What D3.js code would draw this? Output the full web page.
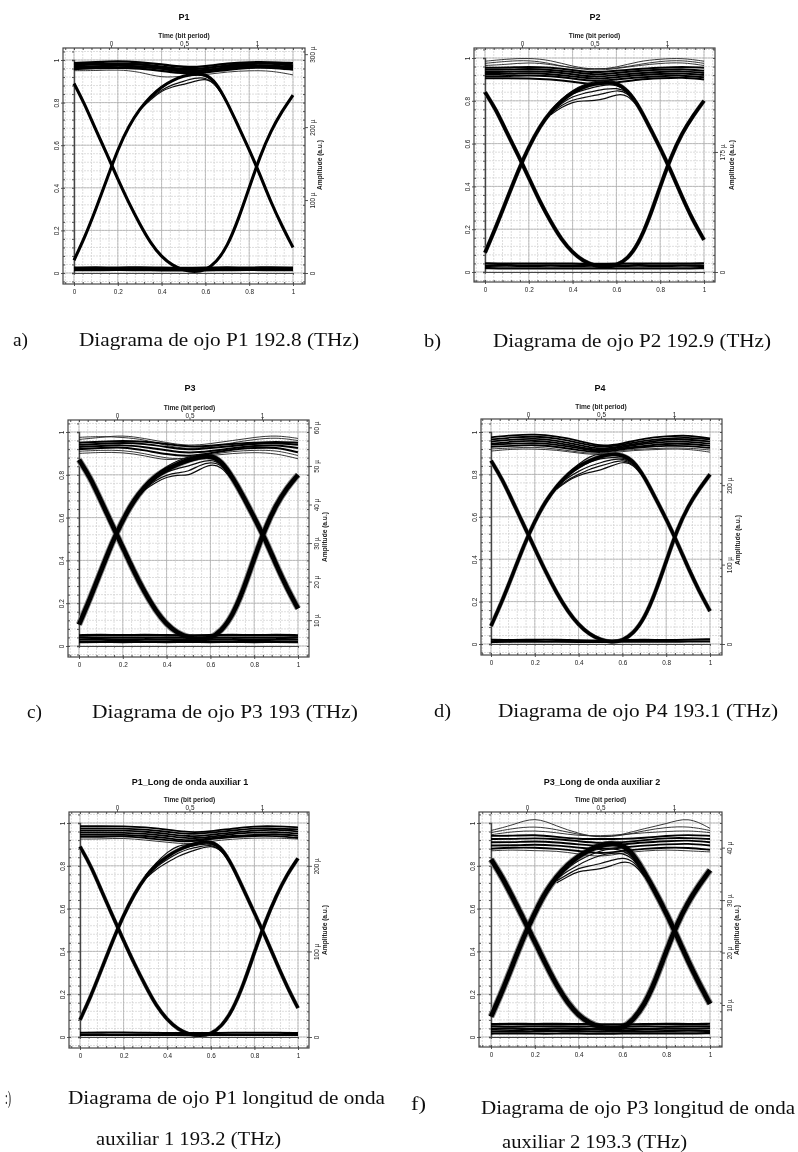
<!DOCTYPE html>
<html><head><meta charset="utf-8">
<script src="https://cdn.jsdelivr.net/npm/d3@7"></script>
<style>html,body{margin:0;padding:0;background:#fff}svg{display:block}</style>
</head><body><svg id="c" width="798" height="1152"></svg>
<script>
// ---- sample positions (bit-period fraction) ----
const X21=[0,.05,.1,.15,.2,.25,.3,.35,.4,.45,.5,.55,.6,.65,.7,.75,.8,.85,.9,.95,1];
const X11=[0,.1,.2,.3,.4,.5,.6,.7,.8,.9,1];
const X9=[.3,.35,.4,.45,.5,.55,.6,.65,.7];
const xTicks=[0,.2,.4,.6,.8,1], yTicks=[0,.2,.4,.6,.8,1], topTicks=[0,.5,1];
const titles=["P1","P2","P3","P4","P1_Long de onda auxiliar 1","P3_Long de onda auxiliar 2"];
const rightTicks=[[0,100,200,300],[0,175],[10,20,30,40,50,60],[0,100,200],[0,100,200],[10,20,30,40]];
const rightDomains=[[0,292],[0,312],[3.3,58.8],[0,267],[0,250],[3.9,44.7]];
// ---- P1 ----
const P1_arch=[.06,.17,.30,.44,.58,.69,.77,.83,.875,.905,.925,.935,.935,.895,.80,.69,.58,.46,.33,.22,.12];
const P1_bowl=[.89,.79,.67,.56,.44,.33,.23,.14,.075,.035,.012,.005,.012,.05,.125,.25,.40,.55,.67,.76,.835];
const P1_top=[[.985,.99,.995,.99,.98,.965,.97,.985,.99,.99,.985],[.975,.98,.985,.98,.97,.955,.96,.975,.985,.985,.975],[.965,.97,.975,.97,.96,.945,.95,.965,.975,.975,.965],[.958,.962,.965,.96,.95,.935,.94,.955,.965,.965,.955],[.978,.985,.975,.985,.96,.95,.945,.97,.98,.99,.97],[.97,.965,.98,.965,.965,.94,.955,.96,.97,.97,.96]];
const P1_stray=[[.95,.95,.955,.945,.915,.925,.93,.945,.95,.95,.93]];
const P1_bot=[[.024,.026,.024,.026,.024,.022,.024,.026,.024,.026,.024],[.014,.014,.016,.014,.014,.012,.014,.014,.016,.014,.014]];
const P1_lobe=[[.77,.825,.87,.905,.925,.93,.93,.89,.80],[.77,.82,.86,.885,.90,.915,.92,.885,.80],[.765,.815,.855,.875,.885,.90,.915,.885,.795]];
// ---- P2 ----
const P2_arch=[.09,.21,.34,.47,.585,.68,.75,.80,.84,.865,.88,.885,.885,.85,.78,.68,.58,.47,.35,.24,.15];
const P2_bowl=[.84,.76,.65,.55,.44,.33,.235,.15,.09,.05,.03,.022,.03,.06,.13,.25,.40,.54,.65,.73,.80];
const P2_top=[[.955,.955,.96,.955,.945,.93,.94,.95,.955,.96,.955],[.945,.945,.95,.945,.935,.92,.93,.94,.945,.95,.94],[.935,.935,.94,.935,.925,.91,.92,.93,.935,.94,.93],[.925,.925,.93,.925,.915,.90,.91,.92,.925,.93,.92],[.915,.915,.92,.915,.905,.89,.90,.91,.915,.92,.91],[.905,.905,.905,.90,.89,.875,.885,.90,.905,.91,.90]];
const P2_stray=[[.985,.995,1.0,.99,.96,.945,.955,.985,.995,1.0,.985],[.975,.985,.99,.975,.95,.95,.95,.97,.985,.99,.975],[.965,.97,.98,.97,.955,.94,.95,.965,.975,.98,.965]];
const P2_bot=[[.04,.038,.04,.038,.04,.036,.04,.038,.04,.038,.04],[.028,.03,.028,.03,.028,.03,.028,.03,.028,.03,.028],[.018,.016,.018,.016,.018,.016,.018,.016,.018,.016,.018]];
const P2_lobe=[[.755,.81,.85,.875,.89,.90,.89,.855,.785],[.75,.80,.835,.85,.865,.875,.875,.85,.78],[.745,.79,.82,.835,.845,.855,.86,.845,.78],[.74,.78,.805,.815,.825,.835,.85,.84,.775],[.735,.77,.795,.80,.80,.81,.83,.83,.77]];
// ---- P3 ----
const P3_arch=[.10,.22,.35,.48,.59,.68,.745,.795,.825,.85,.87,.885,.89,.865,.79,.70,.60,.50,.38,.27,.175];
const P3_bowl=[.87,.79,.68,.57,.46,.35,.25,.165,.10,.06,.04,.03,.035,.07,.14,.26,.41,.55,.66,.74,.80];
const P3_top=[[.95,.955,.96,.955,.945,.93,.935,.945,.95,.955,.95],[.94,.945,.95,.945,.93,.915,.925,.935,.945,.95,.94],[.93,.935,.94,.93,.915,.90,.91,.925,.935,.94,.925],[.92,.925,.93,.915,.895,.885,.90,.92,.925,.93,.905]];
const P3_stray=[[.965,.975,.985,.97,.95,.935,.945,.96,.975,.985,.97],[.91,.915,.915,.90,.875,.875,.895,.91,.915,.915,.89],[.975,.98,.975,.965,.935,.92,.93,.95,.965,.975,.96],[.90,.905,.905,.89,.865,.88,.89,.90,.905,.90,.875]];
const P3_bot=[[.05,.052,.05,.052,.05,.05,.05,.052,.05,.052,.05],[.04,.038,.04,.038,.04,.038,.04,.038,.04,.038,.04],[.03,.03,.028,.03,.03,.028,.03,.03,.028,.03,.03],[.018,.02,.018,.02,.018,.02,.018,.02,.018,.02,.018]];
const P3_lobe=[[.75,.80,.84,.865,.885,.895,.89,.865,.795],[.745,.79,.825,.845,.86,.875,.88,.86,.79],[.74,.785,.815,.83,.84,.86,.87,.855,.785],[.735,.775,.80,.81,.815,.845,.86,.85,.78],[.73,.765,.79,.80,.795,.825,.85,.84,.775]];
// ---- P4 ----
const P4_arch=[.085,.20,.33,.465,.58,.675,.745,.80,.84,.865,.885,.895,.895,.865,.79,.69,.59,.48,.36,.25,.155];
const P4_bowl=[.865,.78,.67,.56,.45,.34,.24,.155,.09,.045,.02,.008,.015,.05,.12,.24,.39,.54,.65,.73,.80];
const P4_top=[[.975,.985,.99,.98,.96,.93,.945,.97,.98,.985,.97],[.965,.975,.98,.97,.95,.925,.94,.96,.97,.975,.965],[.955,.965,.97,.96,.94,.915,.935,.95,.965,.965,.955],[.945,.955,.96,.95,.93,.91,.93,.945,.955,.955,.945],[.94,.945,.95,.94,.925,.905,.925,.935,.945,.945,.935],[.93,.935,.94,.93,.915,.90,.92,.93,.935,.935,.925]];
const P4_stray=[[.92,.925,.93,.92,.905,.895,.915,.92,.925,.925,.915],[.91,.92,.92,.915,.90,.89,.91,.915,.92,.92,.905]];
const P4_bot=[[.02,.018,.02,.02,.018,.016,.018,.02,.018,.02,.022],[.01,.01,.012,.01,.01,.01,.01,.012,.01,.012,.012]];
const P4_lobe=[[.75,.805,.85,.885,.90,.89,.885,.86,.79],[.745,.795,.83,.86,.875,.88,.88,.86,.79],[.74,.785,.815,.84,.855,.87,.875,.855,.785],[.735,.775,.80,.825,.84,.855,.87,.85,.785],[.73,.77,.795,.81,.82,.84,.86,.85,.78]];
// ---- P1 auxiliar 1 ----
const P5_arch=[.08,.19,.32,.45,.57,.67,.75,.805,.845,.875,.895,.91,.915,.885,.80,.69,.58,.47,.35,.235,.135];
const P5_bowl=[.89,.80,.68,.565,.45,.34,.24,.145,.08,.035,.012,.005,.012,.05,.125,.245,.395,.54,.66,.76,.835];
const P5_top=[[.985,.985,.985,.98,.97,.955,.96,.975,.985,.985,.98],[.975,.975,.975,.97,.96,.945,.955,.965,.975,.975,.97],[.965,.965,.965,.96,.95,.935,.945,.955,.965,.97,.96],[.955,.955,.955,.95,.94,.925,.935,.95,.955,.96,.95],[.945,.945,.945,.94,.93,.915,.93,.94,.945,.95,.94],[.935,.935,.94,.93,.92,.91,.925,.935,.94,.94,.93]];
const P5_stray=[[.925,.925,.93,.92,.91,.90,.915,.925,.93,.93,.925]];
const P5_bot=[[.02,.02,.022,.02,.018,.018,.018,.02,.02,.02,.018],[.01,.01,.01,.01,.01,.008,.01,.01,.01,.01,.01]];
const P5_lobe=[[.755,.815,.865,.895,.90,.905,.91,.88,.80],[.75,.805,.845,.875,.89,.90,.905,.88,.80],[.745,.795,.83,.86,.88,.89,.90,.875,.795],[.74,.785,.815,.845,.865,.88,.895,.875,.795]];
// ---- P3 auxiliar 2 ----
const P6_arch=[.095,.21,.34,.47,.58,.68,.75,.805,.845,.875,.895,.905,.90,.855,.77,.68,.58,.47,.355,.25,.155];
const P6_bowl=[.83,.75,.65,.55,.445,.34,.24,.16,.10,.065,.045,.035,.04,.08,.15,.26,.40,.53,.63,.71,.78];
const P6_top=[[.94,.94,.945,.935,.925,.925,.925,.93,.94,.945,.94],[.925,.925,.93,.925,.915,.905,.91,.92,.93,.93,.925],[.91,.91,.915,.91,.90,.89,.90,.91,.915,.92,.91],[.895,.895,.90,.895,.885,.875,.885,.895,.90,.905,.895],[.88,.885,.885,.88,.87,.855,.87,.88,.885,.885,.875]];
const P6_stray=[[.87,.875,.87,.87,.855,.84,.86,.87,.875,.87,.865],[.965,.99,1.03,.985,.95,.93,.945,.975,.995,1.03,.975],[.955,.975,.985,.97,.945,.935,.94,.965,.98,.985,.965],[.945,.96,.965,.955,.94,.94,.945,.955,.96,.965,.955]];
const P6_bot=[[.06,.062,.06,.062,.06,.06,.058,.06,.062,.06,.062],[.05,.048,.05,.05,.048,.05,.048,.05,.048,.05,.05],[.038,.04,.036,.04,.038,.036,.04,.036,.04,.038,.04],[.026,.028,.026,.03,.028,.026,.028,.026,.028,.03,.028],[.016,.018,.016,.016,.018,.014,.018,.016,.018,.016,.018]];
const P6_lobe=[[.755,.815,.85,.885,.91,.915,.90,.855,.77],[.75,.80,.84,.87,.89,.90,.89,.85,.77],[.745,.79,.825,.85,.87,.88,.875,.84,.765],[.74,.775,.805,.83,.85,.86,.86,.835,.76],[.73,.76,.79,.80,.81,.825,.84,.825,.755],[.72,.75,.775,.78,.785,.80,.82,.815,.75]];
const series=[[P1_arch,P1_bowl,P1_top,P1_stray,P1_bot,P1_lobe],[P2_arch,P2_bowl,P2_top,P2_stray,P2_bot,P2_lobe],[P3_arch,P3_bowl,P3_top,P3_stray,P3_bot,P3_lobe],[P4_arch,P4_bowl,P4_top,P4_stray,P4_bot,P4_lobe],[P5_arch,P5_bowl,P5_top,P5_stray,P5_bot,P5_lobe],[P6_arch,P6_bowl,P6_top,P6_stray,P6_bot,P6_lobe]];

// ---- layout (pixels) ----
const layout=[
 {l:63,r:305,t:48,b:284,x0:74,x1:293,y1:60,y0:273,t0:111,t1:257,tx:184,ty:17,ax:320,ay:165,w:3.1,h:0,band:2.3},
 {l:474,r:715,t:48,b:282,x0:485,x1:704,y1:58,y0:272,t0:522,t1:667,tx:595,ty:17,ax:732,ay:165,w:3.6,h:4.2,band:2},
 {l:68,r:309,t:420,b:657,x0:79,x1:298,y1:432,y0:646,t0:117,t1:262,tx:190,ty:388,ax:325,ay:537,w:4.6,h:6.4,band:2},
 {l:481,r:722,t:419,b:655,x0:491,x1:710,y1:432,y0:644,t0:528,t1:674,tx:600,ty:388,ax:738,ay:540,w:3.5,h:4.4,band:1.8},
 {l:69,r:309,t:812,b:1048,x0:80,x1:298,y1:823,y0:1037,t0:117,t1:262,tx:190,ty:782,ax:325,ay:930,w:3.3,h:4,band:1.8},
 {l:479,r:722,t:812,b:1047,x0:491,x1:710,y1:823,y0:1037,t0:527,t1:674,tx:602,ty:782,ax:737,ay:930,w:4.8,h:6.8,band:1.9}
];
const captionLines=[
 {s:"a)",x:13,y:345.5,w:15},{s:"Diagrama de ojo P1 192.8 (THz)",x:79,y:345.5,w:280},
 {s:"b)",x:424,y:346.5,w:17},{s:"Diagrama de ojo P2 192.9 (THz)",x:493,y:346.5,w:278},
 {s:"c)",x:27,y:717.5,w:15},{s:"Diagrama de ojo P3 193 (THz)",x:92,y:717.5,w:266},
 {s:"d)",x:434,y:716.5,w:17},{s:"Diagrama de ojo P4 193.1 (THz)",x:498,y:716.5,w:280},
 {s:":)",x:5,y:1104,w:6},{s:"Diagrama de ojo P1 longitud de onda",x:68,y:1104,w:317},
 {s:"auxiliar 1 193.2 (THz)",x:96,y:1145,w:185},
 {s:"f)",x:411,y:1110,w:15},{s:"Diagrama de ojo P3 longitud de onda",x:481,y:1114,w:314},
 {s:"auxiliar 2 193.3 (THz)",x:502,y:1148,w:185}
];

const svg=d3.select("#c");
const defs=svg.append("defs");
defs.append("filter").attr("id","soft").attr("x","-5%").attr("y","-5%").attr("width","110%").attr("height","110%")
  .append("feGaussianBlur").attr("stdDeviation",0.55);
defs.append("filter").attr("id","softText").attr("x","-5%").attr("y","-20%").attr("width","110%").attr("height","140%")
  .append("feGaussianBlur").attr("stdDeviation",0.35);

const AXC="#444", SANS="'Liberation Sans',Arial,sans-serif";
function styleAxis(g,size){
  g.selectAll("path").attr("stroke",AXC).attr("stroke-width",1);
  g.selectAll("line").attr("stroke",AXC).attr("stroke-width",.9);
  g.selectAll("text").attr("font-family",SANS).attr("font-size",size).attr("fill","#222");
}
layout.forEach((L,i)=>{
  const [arch,bowl,top,stray,bot,lobe]=series[i];
  const sx=d3.scaleLinear().domain([0,1]).range([L.x0,L.x1]);
  const sy=d3.scaleLinear().domain([0,1]).range([L.y0,L.y1]);
  const st=d3.scaleLinear().domain([0,1]).range([L.t0,L.t1]);
  const sr=d3.scaleLinear().domain(rightDomains[i]).range([L.y0,L.y1]);
  const g=svg.append("g").attr("filter","url(#soft)");
  const minorX=d3.range(-5,31).map(k=>k*.04).filter(v=>sx(v)>=L.l&&sx(v)<=L.r);
  const minorY=d3.range(-5,31).map(k=>k*.04).filter(v=>sy(v)<=L.b&&sy(v)>=L.t);
  // grid
  g.append("g").selectAll("line").data(minorX).join("line").attr("x1",d=>sx(d)).attr("x2",d=>sx(d)).attr("y1",L.t).attr("y2",L.b).attr("stroke","#d0d0d0").attr("stroke-width",.7).attr("stroke-dasharray","2 1");
  g.append("g").selectAll("line").data(minorY).join("line").attr("y1",d=>sy(d)).attr("y2",d=>sy(d)).attr("x1",L.l).attr("x2",L.r).attr("stroke","#d0d0d0").attr("stroke-width",.7).attr("stroke-dasharray","2 1");
  g.append("g").selectAll("line").data(xTicks).join("line").attr("x1",d=>sx(d)).attr("x2",d=>sx(d)).attr("y1",L.t).attr("y2",L.b).attr("stroke","#aaa").attr("stroke-width",.7);
  g.append("g").selectAll("line").data(yTicks).join("line").attr("y1",d=>sy(d)).attr("y2",d=>sy(d)).attr("x1",L.l).attr("x2",L.r).attr("stroke","#aaa").attr("stroke-width",.7);
  // frame
  g.append("rect").attr("x",L.l).attr("y",L.t).attr("width",L.r-L.l).attr("height",L.b-L.t).attr("fill","none").attr("stroke",AXC).attr("stroke-width",1.2);
  // inner lines at x=0 / y=0 with minor ticks
  const inL=g.append("g").attr("transform",`translate(${L.x0},0)`).call(d3.axisLeft(sy).tickValues(minorY).tickSize(2).tickFormat(""));
  styleAxis(inL,5); inL.select("path").attr("stroke-width",1.4);
  const inB=g.append("g").attr("transform",`translate(0,${L.y0})`).call(d3.axisBottom(sx).tickValues(minorX.filter(v=>v>=0&&v<=1)).tickSize(1.5).tickFormat(""));
  styleAxis(inB,5);
  // frame minor ticks
  [[d3.axisTop(sx),L.t],[d3.axisBottom(sx),L.b]].forEach(([ax,y])=>{
    const m=g.append("g").attr("transform",`translate(0,${y})`).call(ax.tickValues(minorX).tickSize(-2).tickFormat(""));
    styleAxis(m,5); m.select("path").remove();
  });
  [[d3.axisLeft(sy),L.l],[d3.axisRight(sy),L.r]].forEach(([ax,x])=>{
    const m=g.append("g").attr("transform",`translate(${x},0)`).call(ax.tickValues(minorY).tickSize(-2).tickFormat(""));
    styleAxis(m,5); m.select("path").remove();
  });
  // traces
  const lineA=(xs)=>d3.line().x((d,k)=>sx(xs[k])).y(d=>sy(d)).curve(d3.curveBasis);
  const tr=g.append("g").attr("fill","none").attr("stroke-linecap","butt");
  if(L.h>0) [arch,bowl].forEach(c=>tr.append("path").attr("d",lineA(X21)(c)).attr("stroke","#8a8a8a").attr("stroke-width",L.h));
  stray.forEach(c=>tr.append("path").attr("d",lineA(X11)(c)).attr("stroke","#222").attr("stroke-width",.9));
  top.forEach(c=>tr.append("path").attr("d",lineA(X11)(c)).attr("stroke","#050505").attr("stroke-width",L.band));
  bot.forEach(c=>tr.append("path").attr("d",lineA(X11)(c)).attr("stroke","#000").attr("stroke-width",L.band+.3));
  lobe.forEach(c=>tr.append("path").attr("d",lineA(X9)(c)).attr("stroke","#111").attr("stroke-width",1.2));
  [arch,bowl].forEach(c=>tr.append("path").attr("d",lineA(X21)(c)).attr("stroke","#000").attr("stroke-width",L.w));
  // labelled axes
  const fs=6.4;
  const bAx=g.append("g").attr("transform",`translate(0,${L.b})`).call(d3.axisBottom(sx).tickValues(xTicks).tickSize(2).tickPadding(3.5).tickFormat(d3.format("~g")));
  styleAxis(bAx,fs); bAx.select("path").remove();
  const lAx=g.append("g").attr("transform",`translate(${L.l},0)`).call(d3.axisLeft(sy).tickValues(yTicks).tickSize(2).tickPadding(2).tickFormat(d3.format("~g")));
  styleAxis(lAx,fs); lAx.select("path").remove();
  lAx.selectAll("text").attr("text-anchor","middle").attr("dy",0).attr("x",-6).attr("transform","rotate(-90,-6,0)").attr("dominant-baseline","middle");
  const tAx=g.append("g").attr("transform",`translate(0,${L.t})`).call(d3.axisTop(st).tickValues(topTicks).tickSize(2).tickPadding(.5).tickFormat(d3.format("~g")));
  styleAxis(tAx,fs); tAx.select("path").remove();
  const rAx=g.append("g").attr("transform",`translate(${L.r},0)`).call(d3.axisRight(sr).tickValues(rightTicks[i]).tickSize(3).tickPadding(3).tickFormat(d=>d===0?"0":d+" µ"));
  styleAxis(rAx,fs); rAx.select("path").remove();
  rAx.selectAll("text").attr("text-anchor","middle").attr("dy",0).attr("x",8).attr("dominant-baseline","middle").attr("transform","rotate(-90,8,0)");
  // labels
  g.append("text").attr("x",(L.t0+L.t1)/2).attr("y",L.t-10).attr("text-anchor","middle").attr("font-family",SANS).attr("font-size",6.6).attr("font-weight","bold").attr("fill","#222").text("Time (bit period)");
  g.append("text").attr("x",L.tx).attr("y",L.ty+3).attr("text-anchor","middle").attr("font-family",SANS).attr("font-size",9).attr("font-weight","bold").attr("fill","#111").text(titles[i]);
  g.append("text").attr("transform",`translate(${L.ax},${L.ay}) rotate(-90)`).attr("text-anchor","middle").attr("dominant-baseline","middle").attr("font-family",SANS).attr("font-size",6.6).attr("font-weight","bold").attr("fill","#222").text("Amplitude (a.u.)");
});
svg.append("g").attr("filter","url(#softText)").selectAll("text").data(captionLines).join("text")
  .attr("x",d=>d.x).attr("y",d=>d.y).attr("textLength",d=>d.w).attr("lengthAdjust","spacingAndGlyphs")
  .attr("font-family","'Liberation Serif','Times New Roman',serif").attr("font-size",19).attr("fill","#111").text(d=>d.s);
</script></body></html>
